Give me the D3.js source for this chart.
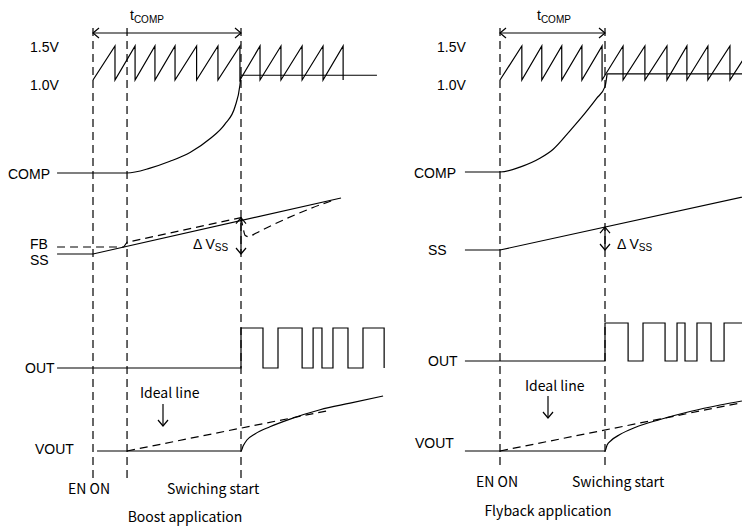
<!DOCTYPE html>
<html>
<head>
<meta charset="utf-8">
<script src="https://cdn.jsdelivr.net/npm/d3@7"></script>
<style>
  body { margin: 0; background: #fff; }
  svg { display: block; }
  text { font-family: "Liberation Sans", Arial, sans-serif; font-size: 14px; fill: #000; }
  text.jp { font-family: "Noto Sans CJK JP", sans-serif; font-size: 14px; }
</style>
</head>
<body>
<div id="chart"></div>
<script>
// time is counted in ramp periods, EN ON at t = 0
const titles = ["Boost application", "Flyback application"];
const rampTicks = [1.5, 1.0];
const rampTickLabels = ["1.5V", "1.0V"];
const eventLabels = ["EN ON", "Swiching start"];

// ---- boost
const boostEvents = [0, 1.61, 7];   // EN ON, COMP starts, switching start
const boostRampPeaks = [1.04, 1.99, 2.93, 3.88, 4.9, 5.91, 6.95, 7.9, 8.89, 9.89, 10.88, 11.83];
const boostCompLevel = 1.07;        // on the ramp scale (V)
const boostCompHold = [7, 13.43];
const boostComp = [[-1.7, 0], [1.61, 0], [2.7, 0.05], [3.64, 0.12], [4.59, 0.21], [5.53, 0.35],
  [6.24, 0.5], [6.72, 0.68], [6.95, 0.9], [7.0, 1.0]];
const boostSS = [[-1.7, 0], [0, 0], [11.73, 1]];
const boostFB = [[-1.7, 0.125], [1.45, 0.125], [1.61, 0.21], [7, 0.65]];
const boostFBDip = [[7, 0.65], [7.08, 0.5], [7.2, 0.33], [7.35, 0.31], [7.7, 0.37], [8.5, 0.52],
  [9.56, 0.7], [10.83, 0.89], [11.45, 0.97]];
const boostOutEdges = [7, 8.04, 8.75, 9.89, 10.41, 10.83, 11.35, 12.06, 12.77, 13.77];
const boostVout = [[0.19, 0], [7, 0], [7.1, 0.09], [7.28, 0.2], [7.66, 0.31], [8.37, 0.44],
  [9.32, 0.58], [10.74, 0.75], [12.16, 0.87], [13.72, 1.0]];
const boostIdeal = [[1.61, 0], [11.2, 0.74]];

// ---- flyback
const flybackEvents = [0, 5];       // EN ON (COMP starts), switching start
const flybackRampPeaks = [1.04, 1.99, 2.94, 3.9, 4.86, 5.86, 6.9, 7.95, 8.9, 9.9, 10.95, 12];
const flybackCompLevel = 1.09;
const flybackCompHold = [5.1, 12];
const flybackComp = [[-1.67, 0], [0, 0], [0.95, 0.05], [1.9, 0.14], [2.52, 0.23], [3.33, 0.42],
  [4.05, 0.6], [4.6, 0.75], [5.0, 0.87], [5.1, 1.0]];
const flybackSS = [[-1.67, 0], [0, 0], [12, 1]];
const flybackOutEdges = [5, 6.1, 6.81, 7.86, 8.43, 8.81, 9.38, 10.05, 10.67, 12.5];
const flybackVout = [[-1.67, 0], [5, 0], [5.1, 0.12], [5.29, 0.21], [5.71, 0.33], [6.43, 0.47],
  [7.62, 0.63], [9.05, 0.79], [10.48, 0.92], [11.52, 1.0]];
const flybackIdeal = [[0, 0], [11.5, 0.966]];

const svg = d3.select("#chart").append("svg")
    .attr("width", 742)
    .attr("height", 527);

svg.append("style").text(`
  .solid { fill: none; stroke: #000; stroke-width: 1.2; }
  .dash { fill: none; stroke: #000; stroke-width: 1.2; stroke-dasharray: 8,5; }
`);

const yRamp = d3.scaleLinear().domain([1.0, 1.5]).range([80, 46]);

function chevron(g, x, y, dir, size) {
    const s = size, w = size - 1;
    let p;
    if (dir === "l") p = [[x + s, y - w], [x, y], [x + s, y + w]];
    if (dir === "r") p = [[x - s, y - w], [x, y], [x - s, y + w]];
    if (dir === "u") p = [[x - w, y + s], [x, y], [x + w, y + s]];
    if (dir === "d") p = [[x - w, y - s], [x, y], [x + w, y - s]];
    g.append("path").attr("d", d3.line()(p)).attr("class", "solid");
}

function drawPanel(p) {
    const g = svg.append("g");
    const x = d3.scaleLinear().domain([0, p.tSw]).range([p.xOn, p.xSw]);
    const yComp = d3.scaleLinear().domain([0, 1]).range([p.compY, yRamp(p.compLevel)]);
    const ySS = d3.scaleLinear().domain([0, 1]).range(p.ssY);
    const yOut = d3.scaleLinear().domain([0, 1]).range(p.outY);
    const yVout = d3.scaleLinear().domain([0, 1]).range(p.voutY);
    const lineOf = (ys, curve) => d3.line().x(d => x(d[0])).y(d => ys(d[1])).curve(curve || d3.curveLinear);

    // event markers
    p.events.forEach(t => {
        g.append("line")
            .attr("x1", x(t)).attr("x2", x(t))
            .attr("y1", p.markTop).attr("y2", p.markBottom)
            .attr("class", "dash");
    });

    // t_COMP
    const tC = p.events[p.events.length - 1];
    g.append("line").attr("x1", x(0)).attr("x2", x(tC)).attr("y1", 33).attr("y2", 33).attr("class", "solid");
    chevron(g, x(0), 33, "l", 6);
    chevron(g, x(tC), 33, "r", 6);
    const tl = g.append("text").attr("x", x(0) + 37).attr("y", 20);
    tl.append("tspan").text("t");
    tl.append("tspan").attr("dy", 3).style("font-size", "10px").text("COMP");

    // ramp
    const ramp = [[0, 1.0]];
    p.peaks.forEach(t => { ramp.push([t, 1.5], [t, 1.0]); });
    g.append("path").attr("d", d3.line().x(d => x(d[0])).y(d => yRamp(d[1]))(ramp)).attr("class", "solid");
    g.append("path").attr("d", d3.line().x(d => x(d)).y(() => yRamp(p.compLevel))(p.compHold)).attr("class", "solid");
    rampTicks.forEach((v, i) => {
        g.append("text").attr("x", p.lab.ramp).attr("y", yRamp(v) + (i === 0 ? 1 : 5))
            .attr("dy", "0.36em").text(rampTickLabels[i]);
    });

    // COMP
    g.append("path").attr("d", lineOf(yComp, d3.curveMonotoneX)(p.comp)).attr("class", "solid");
    g.append("text").attr("x", p.lab.comp).attr("y", p.compY + 1).attr("dy", "0.36em").text("COMP");

    // SS / FB
    g.append("path").attr("d", lineOf(ySS)(p.ss)).attr("class", "solid");
    if (p.fb) {
        g.append("path").attr("d", lineOf(ySS)(p.fb)).attr("class", "dash");
        g.append("path").attr("d", lineOf(ySS, d3.curveMonotoneX)(p.fbDip)).attr("class", "dash");
        g.append("text").attr("x", p.lab.fb).attr("y", 244).attr("dy", "0.36em").text("FB");
    }
    g.append("text").attr("x", p.lab.ss).attr("y", ySS(0) + p.lab.ssDy).attr("dy", "0.36em").text("SS");

    // delta Vss
    const top = ySS(p.dvTop), bot = ySS(0);
    g.append("line").attr("x1", x(tC)).attr("x2", x(tC)).attr("y1", top).attr("y2", bot).attr("class", "solid");
    chevron(g, x(tC), top, "u", 6);
    chevron(g, x(tC), bot, "d", 6);
    const dv = g.append("text").attr("x", x(tC) + p.lab.dv).attr("y", 249);
    dv.append("tspan").text("\u0394 V");
    dv.append("tspan").attr("dy", 2).style("font-size", "10px").text("SS");

    // OUT
    const out = [[p.start, 0]];
    p.outEdges.forEach((t, i) => {
        const hi = i % 2 === 0;
        out.push([t, hi ? 0 : 1], [t, hi ? 1 : 0]);
    });
    g.append("path").attr("d", lineOf(yOut)(out)).attr("class", "solid");
    g.append("text").attr("x", p.lab.out).attr("y", yOut(0)).attr("dy", "0.36em").text("OUT");

    // VOUT
    g.append("path").attr("d", lineOf(yVout)(p.ideal)).attr("class", "dash");
    g.append("path").attr("d", lineOf(yVout, d3.curveMonotoneX)(p.vout)).attr("class", "solid");
    g.append("text").attr("x", p.lab.vout).attr("y", p.lab.voutY).attr("dy", "0.36em").text("VOUT");

    g.append("text").attr("class", "jp").attr("x", p.lab.ideal[0]).attr("y", p.lab.ideal[1]).attr("dy", "0.36em").text("Ideal line");
    g.append("line").attr("x1", p.lab.arrow[0]).attr("x2", p.lab.arrow[0])
        .attr("y1", p.lab.arrow[1]).attr("y2", p.lab.arrow[2]).attr("class", "solid");
    chevron(g, p.lab.arrow[0], p.lab.arrow[2], "d", 6);

    // bottom labels
    g.append("text").attr("class", "jp").attr("x", x(0) + p.lab.en).attr("y", p.lab.evY).attr("dy", "0.36em").text(eventLabels[0]);
    g.append("text").attr("class", "jp").attr("x", x(tC) + p.lab.sw).attr("y", p.lab.evY).attr("dy", "0.36em").text(eventLabels[1]);
    g.append("text").attr("class", "jp").attr("x", p.lab.title[0]).attr("y", p.lab.title[1]).attr("dy", "0.36em")
        .attr("text-anchor", "middle").text(p.title);
}

drawPanel({
    title: titles[0], xOn: 93, xSw: 241, tSw: 7, start: -1.7,
    events: boostEvents, peaks: boostRampPeaks, compLevel: boostCompLevel, compHold: boostCompHold,
    comp: boostComp, ss: boostSS, fb: boostFB, fbDip: boostFBDip, dvTop: 0.65, outEdges: boostOutEdges,
    vout: boostVout, ideal: boostIdeal,
    compY: 173, ssY: [254, 198], outY: [368, 328], voutY: [451, 396],
    markTop: 28, markBottom: 480,
    lab: { ramp: 30, comp: 8, fb: 30, ss: 30, ssDy: 6, out: 25, vout: 35, voutY: 449, dv: -48,
           ideal: [140, 393], arrow: [163, 404, 426], en: -25, sw: -74, evY: 489, title: [185, 517] }
});

drawPanel({
    title: titles[1], xOn: 500, xSw: 605, tSw: 5, start: -1.67,
    events: flybackEvents, peaks: flybackRampPeaks, compLevel: flybackCompLevel, compHold: flybackCompHold,
    comp: flybackComp, ss: flybackSS, fb: null, dvTop: 5 / 12, outEdges: flybackOutEdges,
    vout: flybackVout, ideal: flybackIdeal,
    compY: 172, ssY: [250, 195], outY: [361, 323], voutY: [451, 401],
    markTop: 28, markBottom: 470,
    lab: { ramp: 437, comp: 414, ss: 428, ssDy: 0, out: 428, vout: 415, voutY: 443, dv: 12,
           ideal: [525, 386], arrow: [548, 396, 418], en: -24, sw: -33, evY: 482, title: [548, 511] }
});
</script>
</body>
</html>
